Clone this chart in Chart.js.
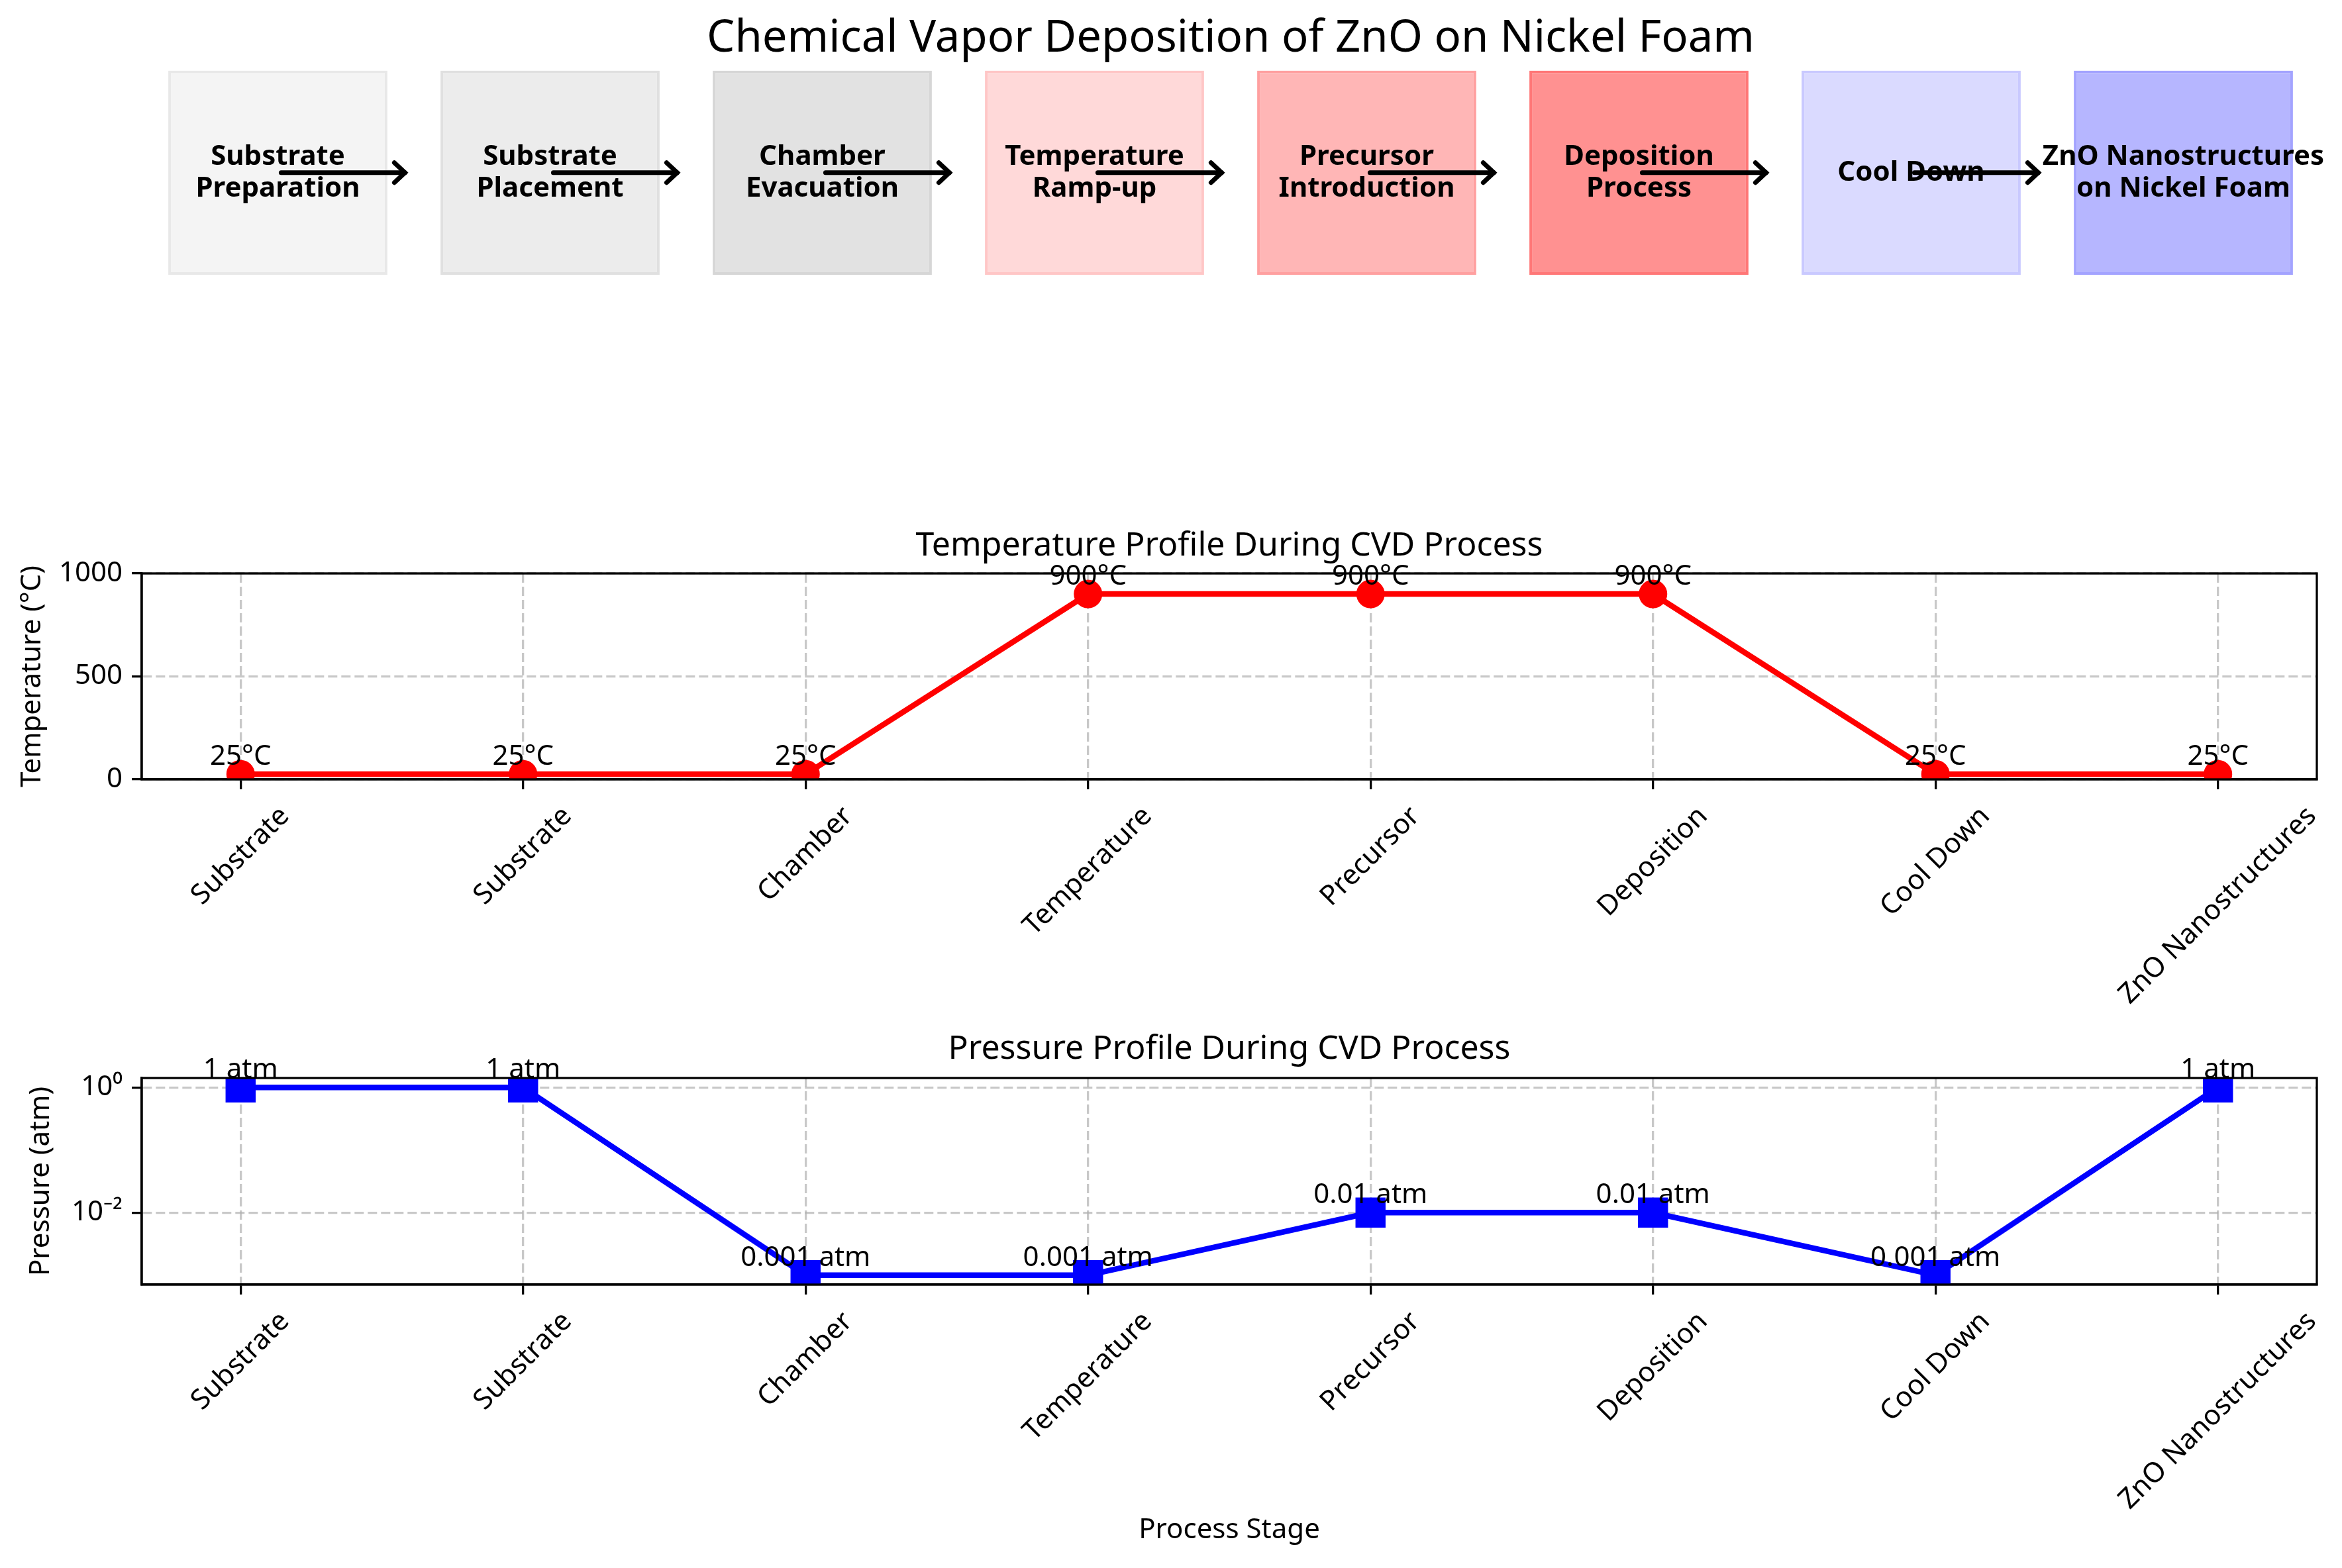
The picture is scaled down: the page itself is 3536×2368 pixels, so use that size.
<!DOCTYPE html>
<html>
<head>
<meta charset="utf-8">
<script src="https://cdn.jsdelivr.net/npm/chart.js@4.4.1/dist/chart.umd.min.js"></script>
<style>
  html, body { margin: 0; padding: 0; background: #fff; }
  #page { position: relative; width: 3536px; height: 2368px; background: #fff; overflow: hidden; }
  canvas { position: absolute; left: 0; }
</style>
</head>
<body>
<div id="page">
  <canvas id="flowChart" width="3536" height="450" style="top:0px"></canvas>
  <canvas id="tempChart" width="3536" height="780" style="top:760px"></canvas>
  <canvas id="pressChart" width="3536" height="828" style="top:1540px"></canvas>
</div>
<script>
// Process stages (box text) and the short names used on the axes
const stages = ['Substrate\nPreparation', 'Substrate\nPlacement', 'Chamber\nEvacuation', 'Temperature\nRamp-up',
    'Precursor\nIntroduction', 'Deposition\nProcess', 'Cool Down', 'ZnO Nanostructures\non Nickel Foam'];
const stageTicks = stages.map(s => s.split('\n')[0]);

// Values per stage
const temperatures = [25, 25, 25, 900, 900, 900, 25, 25];
const pressures = [1, 1, 0.001, 0.001, 0.01, 0.01, 0.001, 1];

// Box colours
const boxColors = ['#f4f4f4', '#ececec', '#e2e2e2', '#ffd9d9', '#ffb6b6', '#ff9191', '#dadaff', '#b6b6ff'];
const boxEdges = ['#e8e8e8', '#e0e0e0', '#d6d6d6', '#ffc6c6', '#ffa0a0', '#ff7777', '#c9c9ff', '#a3a3ff'];

// Axis ticks
const tempTicks = [0, 500, 1000];
const pressTicks = [1, 0.01];
const pressTickLabels = ['10⁰', '10⁻²'];

const FONT = "'Noto Sans', 'Open Sans', 'DejaVu Sans', sans-serif";
const TXT = 42;
Chart.defaults.font.family = FONT;
Chart.defaults.color = '#000';
Chart.defaults.animation = false;
Chart.defaults.plugins.legend.display = false;
Chart.defaults.plugins.tooltip.enabled = false;

// --- flow diagram (boxes + arrows) ---
const flowText = {
    id: 'flowText',
    afterDatasetsDraw(chart) {
        const {ctx, chartArea, scales: {x}} = chart;
        const cy = (chartArea.top + chartArea.bottom) / 2;
        const step = x.getPixelForValue(1) - x.getPixelForValue(0);
        ctx.save();
        ctx.fillStyle = '#000';
        ctx.font = 'bold ' + TXT + 'px ' + FONT;
        ctx.textAlign = 'center';
        ctx.textBaseline = 'middle';
        stages.forEach((s, i) => {
            const lines = s.split('\n');
            const cx = x.getPixelForValue(i);
            lines.forEach((ln, j) => {
                ctx.fillText(ln, cx, cy + (j - (lines.length - 1) / 2) * 48);
            });
        });
        // arrows
        ctx.strokeStyle = '#000';
        ctx.lineWidth = 7;
        ctx.lineCap = 'round';
        ctx.lineJoin = 'miter';
        for (let i = 0; i < stages.length - 1; i++) {
            const cx = x.getPixelForValue(i);
            const x0 = cx + 0.012 * step, x1 = cx + 0.467 * step;
            ctx.beginPath();
            ctx.moveTo(x0, cy);
            ctx.lineTo(x1, cy);
            ctx.stroke();
            ctx.beginPath();
            ctx.moveTo(x1 - 16, cy - 15);
            ctx.lineTo(x1, cy);
            ctx.lineTo(x1 - 16, cy + 15);
            ctx.stroke();
        }
        ctx.restore();
    }
};

new Chart(document.getElementById('flowChart'), {
    type: 'bar',
    data: {
        labels: stageTicks,
        datasets: [{
            data: stages.map(() => [0, 1]),
            backgroundColor: boxColors,
            borderColor: boxEdges,
            borderWidth: 4,
            borderSkipped: false,
            barPercentage: 0.805,
            categoryPercentage: 1
        }]
    },
    options: {
        responsive: false,
        layout: {padding: {left: 214, right: 34, top: 0, bottom: 35}, autoPadding: false},
        plugins: {
            title: {
                display: true,
                text: 'Chemical Vapor Deposition of ZnO on Nickel Foam',
                font: {size: 67, weight: 'normal'},
                padding: {top: 19, bottom: 7}
            }
        },
        scales: {
            x: {display: false, offset: true},
            y: {display: false, min: 0, max: 1}
        }
    },
    plugins: [flowText]
});

// --- line profiles ---
const profileDecor = {
    id: 'profileDecor',
    afterDatasetsDraw(chart, args, opts) {
        const {ctx, chartArea: a} = chart;
        ctx.save();
        // full box spines
        ctx.strokeStyle = '#000';
        ctx.lineWidth = 3.3;
        ctx.strokeRect(a.left, a.top, a.right - a.left, a.bottom - a.top);
        // value labels
        ctx.fillStyle = '#000';
        ctx.font = TXT + 'px ' + FONT;
        ctx.textAlign = 'center';
        ctx.textBaseline = 'alphabetic';
        const meta = chart.getDatasetMeta(0);
        chart.data.datasets[0].data.forEach((d, i) => {
            const pt = meta.data[i];
            ctx.fillText(opts.format(d.y), pt.x, pt.y - 14);
        });
        ctx.restore();
    },
    afterDraw(chart) {
        // rotated stage names under the x axis
        const {ctx, chartArea, scales: {x}} = chart;
        ctx.save();
        ctx.font = TXT + 'px ' + FONT;
        ctx.fillStyle = '#000';
        ctx.textAlign = 'center';
        ctx.textBaseline = 'middle';
        const top = chartArea.bottom + 15 + 14.6;
        stageTicks.forEach((lbl, i) => {
            const w = ctx.measureText(lbl).width;
            const half = (w + TXT * 1.3) * Math.SQRT1_2 / 2;
            ctx.save();
            ctx.translate(x.getPixelForValue(i), top + half);
            ctx.rotate(-Math.PI / 4);
            ctx.fillText(lbl, 0, 0);
            ctx.restore();
        });
        ctx.restore();
    }
};

const gridOpts = {
    color: 'rgba(176,176,176,0.7)',
    lineWidth: 3.3,
    tickLength: 15,
    tickColor: '#000',
    tickWidth: 3.3,
    tickBorderDash: []
};
const borderOpts = {color: '#000', width: 3.3, dash: [14, 6]};

function profileChart(id, cfg) {
    return new Chart(document.getElementById(id), {
        type: 'line',
        data: {
            datasets: [{
                data: cfg.values.map((v, i) => ({x: i, y: v})),
                borderColor: cfg.color,
                backgroundColor: cfg.color,
                borderWidth: 8.5,
                pointStyle: cfg.marker,
                pointRadius: cfg.radius,
                pointBorderWidth: 3,
                tension: 0,
                clip: 0
            }]
        },
        options: {
            responsive: false,
            layout: {padding: {left: 0, right: 38, top: 0, bottom: 0}, autoPadding: false},
            plugins: {
                title: {
                    display: true,
                    fullSize: false,
                    text: cfg.title,
                    font: {size: 50, weight: 'normal'},
                    padding: cfg.titlePad
                },
                profileDecor: {format: cfg.format}
            },
            scales: {
                x: {
                    type: 'linear',
                    min: -0.35,
                    max: stageTicks.length - 1 + 0.35,
                    afterBuildTicks: s => { s.ticks = stageTicks.map((_, i) => ({value: i})); },
                    afterFit: s => { s.height = cfg.xHeight; },
                    ticks: {display: false},
                    grid: gridOpts,
                    border: borderOpts,
                    title: cfg.xTitle
                },
                y: Object.assign({
                    afterFit: s => { s.width = 214; },
                    ticks: {font: {size: TXT}, padding: 14, callback: cfg.tickLabel},
                    grid: gridOpts,
                    border: borderOpts,
                    title: {display: true, text: cfg.yTitle, font: {size: TXT}, padding: {top: cfg.yTitlePad, bottom: 0}}
                }, cfg.yScale)
            }
        },
        plugins: [profileDecor]
    });
}

profileChart('tempChart', {
    values: temperatures,
    color: '#ff0000',
    marker: 'circle',
    radius: 20,
    title: 'Temperature Profile During CVD Process',
    titlePad: {top: 35, bottom: 11},
    xHeight: 363,
    xTitle: {display: false},
    yTitle: 'Temperature (°C)',
    yTitlePad: 24,
    tickLabel: v => String(v),
    format: v => v + '°C',
    yScale: {
        type: 'linear', min: 0, max: 1000,
        afterBuildTicks: s => { s.ticks = tempTicks.map(v => ({value: v})); }
    }
});

profileChart('pressChart', {
    values: pressures,
    color: '#0000ff',
    marker: 'rect',
    radius: 30,
    title: 'Pressure Profile During CVD Process',
    titlePad: {top: 15, bottom: 13},
    xHeight: 428,
    xTitle: {display: true, text: 'Process Stage', font: {size: TXT}, padding: {top: 0, bottom: 32}},
    yTitle: 'Pressure (atm)',
    yTitlePad: 37,
    tickLabel: v => pressTickLabels[pressTicks.indexOf(v)],
    format: v => v + ' atm',
    yScale: {
        type: 'logarithmic', min: Math.pow(10, -3.15), max: Math.pow(10, 0.15),
        afterBuildTicks: s => { s.ticks = pressTicks.map(v => ({value: v})); }
    }
});
</script>
</body>
</html>
